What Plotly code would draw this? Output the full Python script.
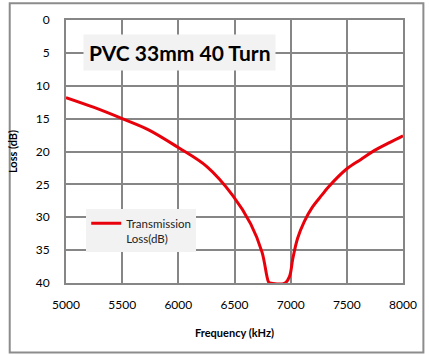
import plotly.graph_objects as go

freq_khz = [5000, 5250, 5500, 5735, 6000, 6254, 6485, 6644, 6745, 6802,
            6815, 6950, 6990, 7019, 7062, 7120, 7192, 7279, 7336, 7495,
            7625, 7740, 7884, 8000]
loss_db = [11.8, 13.3, 15.0, 16.7, 19.4, 22.3, 26.7, 31.0, 35.3, 39.8,
           40.0, 40.0, 39.0, 36.3, 33.2, 30.7, 28.5, 26.6, 25.4, 22.7,
           21.2, 19.9, 18.6, 17.6]
x_ticks = [5000, 5500, 6000, 6500, 7000, 7500, 8000]
y_ticks = [0, 5, 10, 15, 20, 25, 30, 35, 40]

grid = "#868686"
font_family = "Lato, 'Open Sans', sans-serif"

fig = go.Figure()
fig.add_trace(go.Scatter(
    x=freq_khz, y=loss_db, mode="lines",
    line=dict(color="#e8000b", width=3, shape="spline", smoothing=1.0),
    name="Transmission<br>Loss(dB)",
))

fig.update_layout(
    width=429, height=355,
    margin=dict(l=60, r=22, t=18, b=72),
    paper_bgcolor="white", plot_bgcolor="white",
    font=dict(family=font_family, size=12, color="black"),
    showlegend=True,
    legend=dict(
        x=0.06, y=0.28, xanchor="left", yanchor="top",
        bgcolor="#f2f2f2", font=dict(size=11.5, color="#222"),
        valign="top", itemwidth=30, tracegroupgap=0,
    ),
    xaxis=dict(
        range=[5000, 8000], tickvals=x_ticks, showgrid=True,
        gridcolor=grid, gridwidth=2, showline=True, linecolor=grid,
        linewidth=2, mirror=True, zeroline=False, ticks="", ticklen=0,
        ticklabelstandoff=10,
        title=dict(text="<b>Frequency (kHz)</b>", font=dict(size=11), standoff=18),
    ),
    yaxis=dict(
        range=[40, 0], tickvals=y_ticks, showgrid=True,
        gridcolor=grid, gridwidth=2, showline=True, linecolor=grid,
        linewidth=2, mirror=True, zeroline=False, ticks="", ticklen=0,
        ticklabelstandoff=12,
        title=dict(text="<b>Loss (dB)</b>", font=dict(size=11), standoff=16),
    ),
    annotations=[dict(
        xref="paper", yref="paper", x=0.337, y=0.875,
        xanchor="center", yanchor="middle",
        text="<b>PVC 33mm 40 Turn</b>", showarrow=False,
        font=dict(size=21, color="black"), bgcolor="#f2f2f2",
        borderpad=5,
    )],
    shapes=[dict(
        type="rect", xref="paper", yref="paper",
        x0=-0.167, x1=1.0605, y0=-0.264, y1=1.064,
        line=dict(color="#8c8c8c", width=2), layer="above",
    )],
)

fig.write_html("out.html", config={"displayModeBar": False},
               post_script="document.body.style.margin='0';document.body.style.overflow='hidden';")
